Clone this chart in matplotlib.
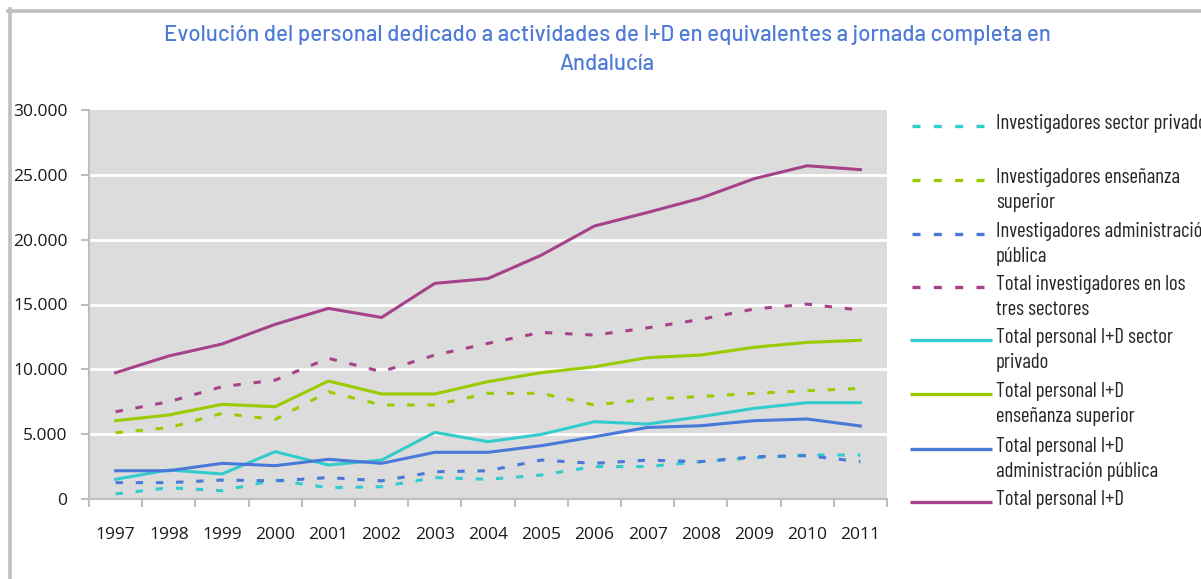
import matplotlib
matplotlib.use("Agg")
import matplotlib.pyplot as plt
from matplotlib.lines import Line2D
from matplotlib.ticker import FuncFormatter, FixedLocator
from matplotlib import font_manager

years = ["1997", "1998", "1999", "2000", "2001", "2002", "2003", "2004",
         "2005", "2006", "2007", "2008", "2009", "2010", "2011"]

inv_privado = [390, 870, 640, 1460, 870, 950, 1650, 1520, 1850, 2500, 2500, 2880, 3180, 3390, 3390]
inv_ensenanza = [5110, 5500, 6600, 6140, 8270, 7250, 7250, 8150, 8150, 7250, 7700, 7900, 8150, 8350, 8530]
inv_admin = [1260, 1260, 1460, 1400, 1650, 1400, 2100, 2180, 3000, 2750, 3000, 2880, 3260, 3340, 2880]
inv_total = [6730, 7500, 8660, 9170, 10850, 9820, 11100, 12000, 12850, 12640, 13200, 13850, 14650, 15030, 14570]
pers_privado = [1520, 2240, 1930, 3650, 2620, 3000, 5140, 4420, 4980, 5960, 5780, 6350, 6990, 7430, 7430]
pers_ensenanza = [6040, 6480, 7300, 7120, 9100, 8100, 8100, 9050, 9740, 10200, 10900, 11100, 11700, 12080, 12240]
pers_admin = [2180, 2180, 2750, 2570, 3060, 2750, 3600, 3600, 4110, 4800, 5520, 5650, 6040, 6170, 5630]
pers_total = [9740, 11030, 11950, 13470, 14700, 14000, 16630, 17000, 18800, 21050, 22100, 23200, 24700, 25700, 25400]

labels = ["Investigadores sector privado",
          "Investigadores enseñanza\nsuperior",
          "Investigadores administración\npública",
          "Total investigadores en los\ntres sectores",
          "Total personal I+D sector\nprivado",
          "Total personal I+D\nenseñanza superior",
          "Total personal I+D\nadministración pública",
          "Total personal I+D"]

C_CYAN = "#33CCCC"
C_GREEN = "#99CC00"
C_BLUE = "#4A78D8"
C_PURPLE = "#A5428A"

series = [inv_privado, inv_ensenanza, inv_admin, inv_total,
          pers_privado, pers_ensenanza, pers_admin, pers_total]
colors = [C_CYAN, C_GREEN, C_BLUE, C_PURPLE, C_CYAN, C_GREEN, C_BLUE, C_PURPLE]
dashed = [True, True, True, True, False, False, False, False]

available = {f.name for f in font_manager.fontManager.ttflist}


def pick(*cands):
    for c in cands:
        if c in available:
            return c
    return "DejaVu Sans"


legfont = pick("Barlow Condensed", "Archivo Narrow", "Asap Condensed", "DejaVu Sans")
titlefont = pick("Barlow", "Barlow Semi Condensed", "Barlow Condensed", "DejaVu Sans")
title_size = 16 if titlefont == "Barlow" else 18
tickfont = pick("Open Sans", "DejaVu Sans")

W, H = 1201, 579
fig = plt.figure(figsize=(W / 100, H / 100), dpi=100)
fig.patch.set_facecolor("white")

# outer frame (top and left visible)
fig.add_artist(Line2D([8 / W, 1.0], [1 - 10.5 / H, 1 - 10.5 / H], color="#BFBFBF", lw=2.6))
fig.add_artist(Line2D([10 / W, 10 / W], [0, 1 - 9 / H], color="#BFBFBF", lw=2.6))

ax = fig.add_axes([89 / W, 1 - 499 / H, (887 - 89) / W, (499 - 110) / H])
ax.set_facecolor("#DCDCDC")
x = list(range(len(years)))
for vals, col, d in zip(series, colors, dashed):
    if d:
        ax.plot(x, vals, color=col, lw=2.2, dashes=(2.4, 4.2),
                dash_capstyle="butt", zorder=3)
    else:
        ax.plot(x, vals, color=col, lw=2.2, zorder=3)

ax.set_xlim(-0.5, len(years) - 0.5)
ax.set_ylim(0, 30000)
ax.set_yticks(range(0, 30001, 5000))
ax.yaxis.set_major_formatter(FuncFormatter(lambda v, p: f"{int(v):,}".replace(",", ".")))
for yv in range(5000, 30000, 5000):
    ax.axhline(yv, color="white", lw=2, zorder=1)
ax.set_xticks(x)
ax.set_xticklabels(years)
ax.xaxis.set_minor_locator(FixedLocator([i - 0.5 for i in range(len(years) + 1)]))
ax.tick_params(axis="x", which="major", length=0, pad=20, labelsize=12.5, labelcolor="#1a1a1a")
ax.tick_params(axis="x", which="minor", length=6, width=1.5, color="#BFBFBF")
ax.tick_params(axis="y", length=6, width=1.5, color="#BFBFBF", pad=9.5, labelsize=12.5,
               labelcolor="#1a1a1a")
for lab in ax.get_xticklabels() + ax.get_yticklabels():
    lab.set_fontfamily(tickfont)
for s in ["top", "right"]:
    ax.spines[s].set_visible(False)
for s in ["left", "bottom"]:
    ax.spines[s].set_color("#BFBFBF")
    ax.spines[s].set_linewidth(1.5)

# title
TCOL = "#4E7AD8"
fig.text(607 / W, 1 - 35 / H,
         "Evolución del personal dedicado a actividades de I+D en equivalentes a jornada completa en",
         ha="center", va="center", fontsize=title_size, color=TCOL, fontfamily=titlefont,
         fontweight="medium")
fig.text(607 / W, 1 - 64 / H, "Andalucía",
         ha="center", va="center", fontsize=title_size, color=TCOL, fontfamily=titlefont,
         fontweight="medium")

# legend (manual)
rows = [126, 180, 234, 287, 340, 394, 449, 502]
for lab, col, d, yy in zip(labels, colors, dashed, rows):
    yf = 1 - yy / H
    if d:
        fig.add_artist(Line2D([912 / W, 984 / W], [yf, yf], color=col, lw=2.4,
                              dashes=(2.4, 4.0), dash_capstyle="butt"))
    else:
        fig.add_artist(Line2D([910 / W, 992 / W], [yf, yf], color=col, lw=2.4,
                              solid_capstyle="butt"))
    fig.text(996 / W, yf + 12 / H, lab, ha="left", va="top", fontsize=15, color="#262626",
             fontfamily=legfont, linespacing=1.38)

fig.savefig("out.png", dpi=100, facecolor="white")
